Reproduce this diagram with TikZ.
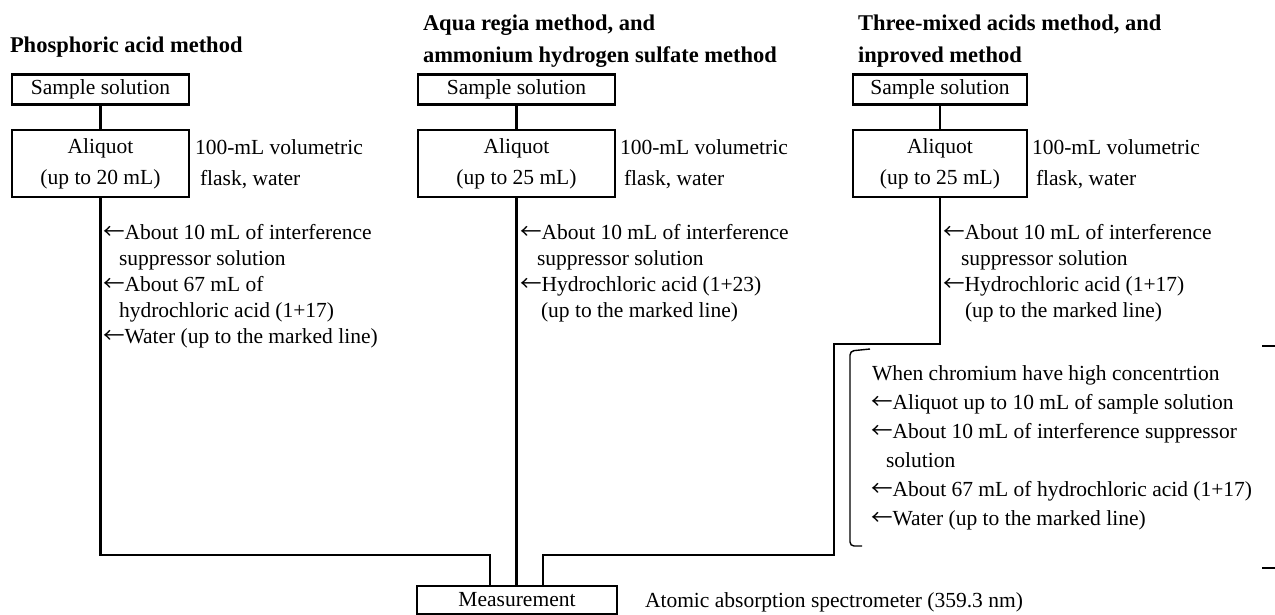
\documentclass[tikz,border=0pt]{standalone}
\usepackage{fontspec}
\setmainfont{Liberation Serif}
\newfontfamily\cjkfont{Noto Sans CJK JP}
\newcommand\larr{{\cjkfont\fontseries{l}\selectfont ←}}
\begin{document}
\begin{tikzpicture}[x=1pt,y=-1pt,
  every node/.style={inner sep=0pt, outer sep=0pt},
  txt/.style={anchor=base west, font=\fontsize{21.5}{26}\selectfont},
  ttl/.style={anchor=base west, font=\fontsize{22.5}{26}\selectfont\bfseries},
  box/.style={draw, line width=2.6pt, align=center, font=\fontsize{21.5}{31}\selectfont},
  flow/.style={line width=2.8pt},
  brk/.style={line width=1.4pt, rounded corners=4pt}]
\useasboundingbox (0,0) rectangle (1275,614);
% titles
\node[ttl] (t1) at (10,52) {Phosphoric acid method};
\node[ttl] (t2a) at (423,30) {Aqua regia method, and};
\node[ttl] (t2b) at (423,62) {ammonium hydrogen sulfate method};
\node[ttl] (t3a) at (858,30) {Three-mixed acids method, and};
\node[ttl] (t3b) at (858,62) {inproved method};
% boxes
\node[box, minimum width=177pt, minimum height=30pt] (s1) at (100.5,89.5) {Sample solution};
\node[box, minimum width=177pt, minimum height=67pt] (a1) at (100.5,163.5) {Aliquot\\(up to 20 mL)};
\node[box, minimum width=197pt, minimum height=30pt] (s2) at (516.5,89.5) {Sample solution};
\node[box, minimum width=197pt, minimum height=67pt] (a2) at (516.5,163.5) {Aliquot\\(up to 25 mL)};
\node[box, minimum width=174pt, minimum height=30pt] (s3) at (940,89.5) {Sample solution};
\node[box, minimum width=174pt, minimum height=67pt] (a3) at (940,163.5) {Aliquot\\(up to 25 mL)};
\node[box, minimum width=200pt, minimum height=28pt] (m) at (517,600) {Measurement};
% side notes
\node[txt] (n1a) at (195,154) {100-mL volumetric};
\node[txt] (n1b) at (200,185) {flask, water};
\node[txt] (n2a) at (620,154) {100-mL volumetric};
\node[txt] (n2b) at (624,185) {flask, water};
\node[txt] (n3a) at (1032,154) {100-mL volumetric};
\node[txt] (n3b) at (1036,185) {flask, water};
\node[txt] (nm) at (645,607) {Atomic absorption spectrometer (359.3 nm)};
% column 1 additions
\node[txt] (c1a) at (103,239) {\larr About 10 mL of interference};
\node[txt] (c1b) at (119,265) {suppressor solution};
\node[txt] (c1c) at (103,291) {\larr About 67 mL of};
\node[txt] (c1d) at (119,317) {hydrochloric acid (1+17)};
\node[txt] (c1e) at (103,343) {\larr Water (up to the marked line)};
% column 2 additions
\node[txt] (c2a) at (520,239) {\larr About 10 mL of interference};
\node[txt] (c2b) at (537,265) {suppressor solution};
\node[txt] (c2c) at (520,291) {\larr Hydrochloric acid (1+23)};
\node[txt] (c2d) at (541,317) {(up to the marked line)};
% column 3 additions
\node[txt] (c3a) at (943,239) {\larr About 10 mL of interference};
\node[txt] (c3b) at (961,265) {suppressor solution};
\node[txt] (c3c) at (943,291) {\larr Hydrochloric acid (1+17)};
\node[txt] (c3d) at (965,317) {(up to the marked line)};
% chromium bracket text
\node[txt] (b1) at (872,380) {When chromium have high concentrtion};
\node[txt] (b2) at (871,409) {\larr Aliquot up to 10 mL of sample solution};
\node[txt] (b3) at (871,438) {\larr About 10 mL of interference suppressor};
\node[txt] (b4) at (886,467) {solution};
\node[txt] (b5) at (871,496) {\larr About 67 mL of hydrochloric acid (1+17)};
\node[txt] (b6) at (871,525) {\larr Water (up to the marked line)};
% bracket
\draw[brk] (870,349) -- (850,351) -- (850,546) -- (862,546);
\coordinate (r1) at (1262,346);
\coordinate (r2) at (1262,568);
\draw[line width=1.4pt] (r1) -- ++(13,0);
\draw[line width=1.4pt] (r2) -- ++(13,0);
% connectors
\coordinate (j1) at (490,555);
\coordinate (k1) at (940,344);
\coordinate (k2) at (834,344);
\coordinate (k3) at (834,555);
\coordinate (k4) at (543,555);
\draw[flow] (s1) -- (a1);
\draw[flow] (s2) -- (a2);
\draw[flow] (s3) -- (a3);
\draw[flow] (a1.south) |- (j1) -- (m.north -| j1);
\draw[flow] (a2.south) -- (m.north -| a2.south);
\draw[flow] (a3.south) -- (k1) -- (k2) -- (k3) -- (k4) -- (m.north -| k4);
\end{tikzpicture}
\end{document}
